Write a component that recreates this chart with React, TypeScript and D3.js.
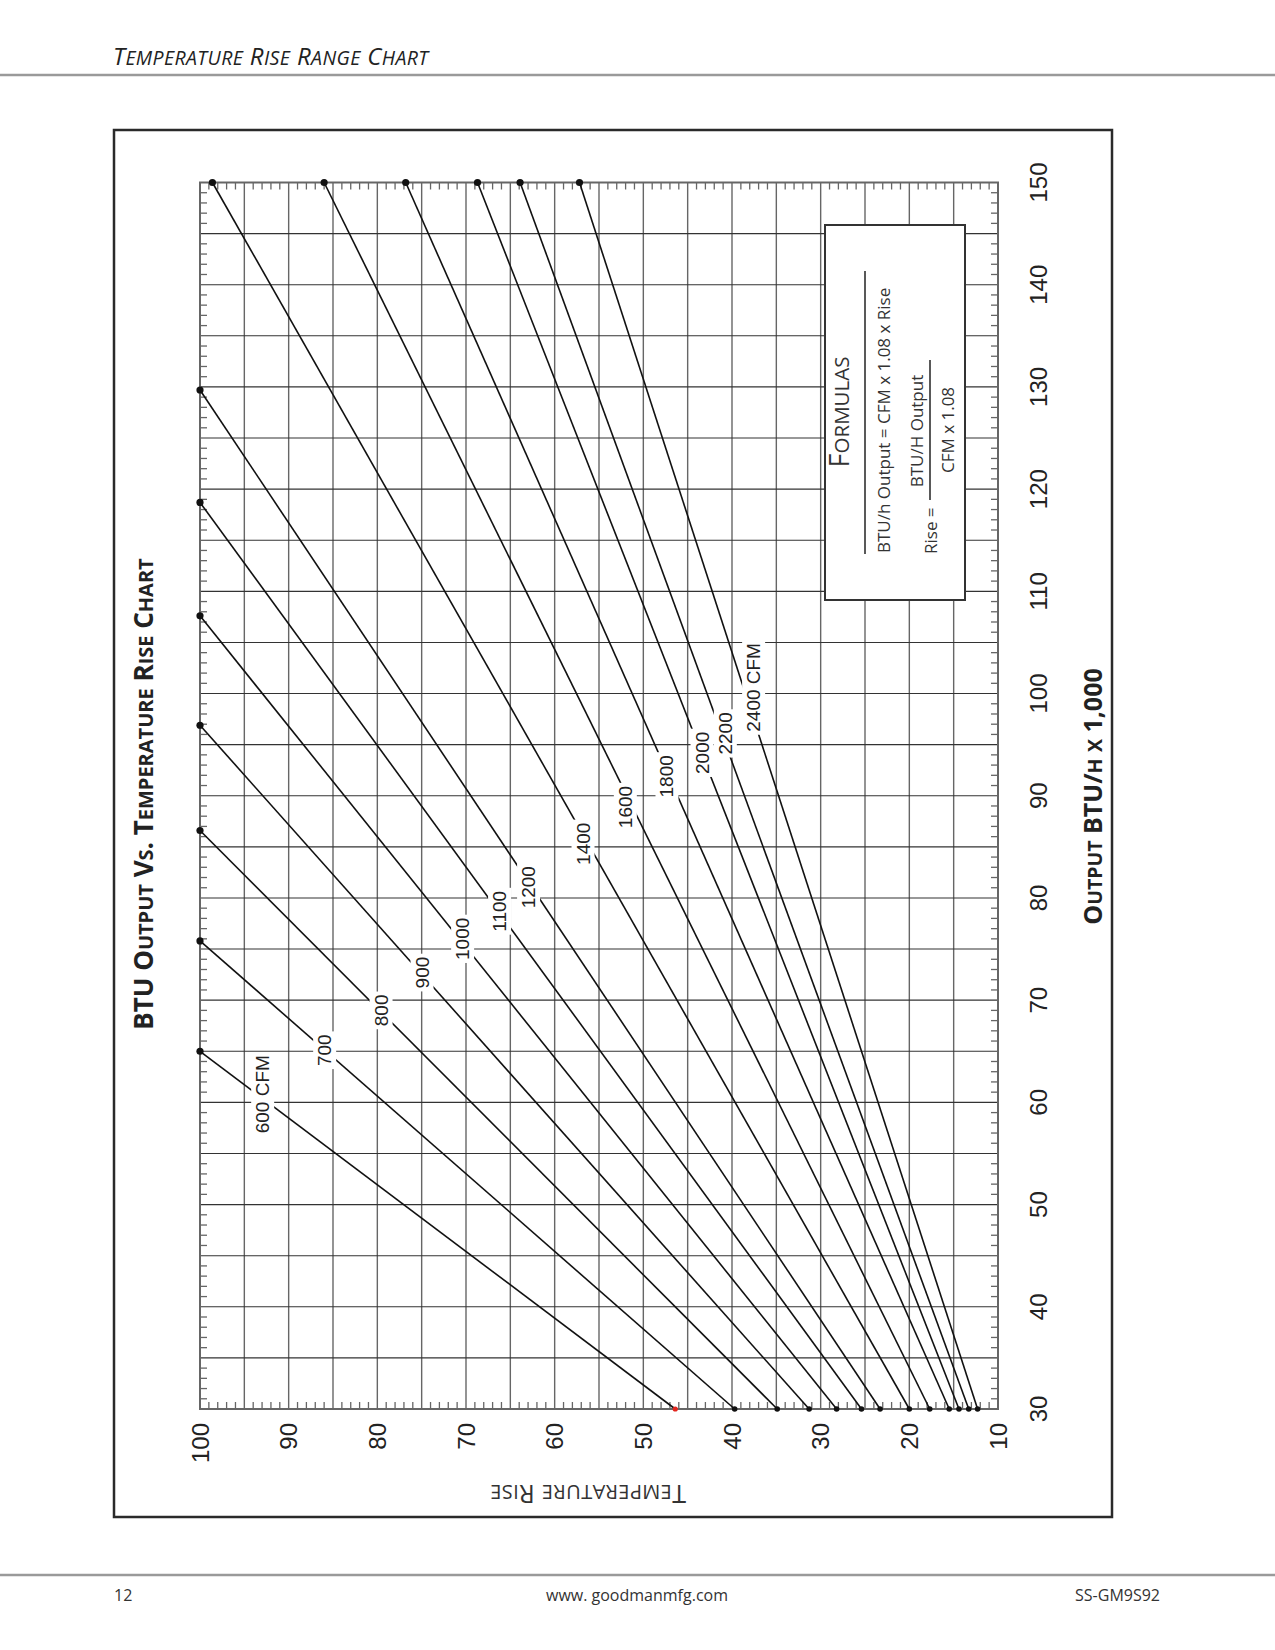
import React, { useEffect, useRef } from "react";
import * as d3 from "d3";

// one entry per airflow line
const cfmLabels = ["600 CFM", "700", "800", "900", "1000", "1100", "1200", "1400", "1600", "1800", "2000", "2200", "2400 CFM"];
// temperature rise where each line starts (output 30,000)
const riseAtStart = [46.4, 39.7, 34.9, 31.3, 28.2, 25.4, 23.3, 20.0, 17.7, 15.5, 14.4, 13.3, 12.3];
// where each line ends
const endOutput = [65.0, 75.8, 86.6, 96.9, 107.6, 118.7, 129.7, 150, 150, 150, 150, 150, 150];
const endRise = [100, 100, 100, 100, 100, 100, 100, 98.6, 86.0, 76.8, 68.7, 63.9, 57.2];
// label spot on each line (rise, output)
const labelRise = [92.97, 85.98, 79.62, 75.0, 70.42, 66.25, 62.98, 56.84, 52.07, 47.37, 43.42, 40.79, 37.6];
const labelOutput = [60.8, 65.1, 69.0, 72.7, 76.0, 78.7, 81.05, 85.3, 88.9, 91.9, 94.2, 96.1, 100.6];

const riseTicks = [100, 90, 80, 70, 60, 50, 40, 30, 20, 10];
const outputTicks = [30, 40, 50, 60, 70, 80, 90, 100, 110, 120, 130, 140, 150];

const W = 1275,
  H = 1650;
const SANS = "'Open Sans', 'Noto Sans', sans-serif";
const ARIAL = "'Liberation Sans', Arial, sans-serif";

// fake small caps: lowercase letters drawn as smaller capitals
function smallCaps(sel: any, str: string, big: number, small: number) {
  const runs: any[] = [];
  for (const ch of str) {
    const size = ch !== ch.toUpperCase() ? small : big;
    const last = runs[runs.length - 1];
    if (last && last.size === size) last.text += ch.toUpperCase();
    else runs.push({ size: size, text: ch.toUpperCase() });
  }
  sel
    .selectAll("tspan")
    .data(runs)
    .join("tspan")
    .attr("font-size", (d: any) => d.size)
    .text((d: any) => d.text);
  return sel;
}

function rotText(g: any, x: number, y: number, angle: number) {
  return g.append("text").attr("transform", "translate(" + x + "," + y + ") rotate(" + angle + ")");
}

export default function App() {
  const ref = useRef<SVGSVGElement>(null);

  useEffect(() => {
    const svg = d3.select(ref.current);
    svg.selectAll("*").remove();

    var x = d3.scaleLinear().domain([100, 10]).range([200, 998]);
    var y = d3.scaleLinear().domain([30, 150]).range([1409, 182.5]);

    // page header
    smallCaps(
      svg
        .append("text")
        .attr("x", 113)
        .attr("y", 65)
        .attr("font-family", SANS)
        .attr("font-style", "italic")
        .attr("letter-spacing", 0.4)
        .attr("fill", "#222"),
      "Temperature Rise Range Chart",
      24,
      19.5
    );
    svg.append("line").attr("x1", 0).attr("x2", W).attr("y1", 75).attr("y2", 75).attr("stroke", "#9a9a9a").attr("stroke-width", 2.5);

    // outer frame
    svg
      .append("rect")
      .attr("x", 114)
      .attr("y", 130)
      .attr("width", 998)
      .attr("height", 1387)
      .attr("fill", "none")
      .attr("stroke", "#2a2a2a")
      .attr("stroke-width", 2.5);

    const plot = svg.append("g");

    // grid
    plot
      .selectAll(".vgrid")
      .data(d3.range(15, 100, 5))
      .enter()
      .append("line")
      .attr("x1", (d: any) => x(d))
      .attr("x2", (d: any) => x(d))
      .attr("y1", y(150))
      .attr("y2", y(30))
      .attr("stroke", "#666")
      .attr("stroke-width", 1.4);
    plot
      .selectAll(".hgrid")
      .data(d3.range(35, 150, 5))
      .enter()
      .append("line")
      .attr("x1", x(100))
      .attr("x2", x(10))
      .attr("y1", (d: any) => y(d))
      .attr("y2", (d: any) => y(d))
      .attr("stroke", "#333")
      .attr("stroke-width", 1.1);

    // minor ticks on every side
    const riseMinor = d3.range(11, 100).filter((d) => d % 5 !== 0);
    const outMinor = d3.range(31, 150).filter((d) => d % 5 !== 0);
    const tickLen = 7;
    riseMinor.forEach((d) => {
      plot.append("line").attr("x1", x(d)).attr("x2", x(d)).attr("y1", y(150)).attr("y2", y(150) + tickLen).attr("stroke", "#666").attr("stroke-width", 1.3);
      plot.append("line").attr("x1", x(d)).attr("x2", x(d)).attr("y1", y(30)).attr("y2", y(30) - tickLen).attr("stroke", "#666").attr("stroke-width", 1.3);
    });
    outMinor.forEach((d) => {
      plot.append("line").attr("x1", x(100)).attr("x2", x(100) + tickLen).attr("y1", y(d)).attr("y2", y(d)).attr("stroke", "#666").attr("stroke-width", 1.3);
      plot.append("line").attr("x1", x(10)).attr("x2", x(10) - tickLen).attr("y1", y(d)).attr("y2", y(d)).attr("stroke", "#666").attr("stroke-width", 1.3);
    });

    plot
      .append("rect")
      .attr("x", x(100))
      .attr("y", y(150))
      .attr("width", x(10) - x(100))
      .attr("height", y(30) - y(150))
      .attr("fill", "none")
      .attr("stroke", "#666")
      .attr("stroke-width", 2);

    // airflow lines
    const line = d3
      .line<number[]>()
      .x((d) => x(d[0]))
      .y((d) => y(d[1]));
    cfmLabels.forEach((name, i) => {
      plot
        .append("path")
        .attr("d", line([[riseAtStart[i], 30], [endRise[i], endOutput[i]]]))
        .attr("fill", "none")
        .attr("stroke", "#111")
        .attr("stroke-width", 1.6);
    });

    // line labels with white knock-out
    cfmLabels.forEach((name, i) => {
      const g = plot.append("g").attr("transform", "translate(" + x(labelRise[i]) + "," + y(labelOutput[i]) + ") rotate(-90)");
      const t = g
        .append("text")
        .attr("text-anchor", "middle")
        .attr("dy", "0.36em")
        .attr("font-family", ARIAL)
        .attr("font-size", 19)
        .attr("fill", "#222")
        .text(name);
      const b = (t.node() as any).getBBox();
      g.insert("rect", "text")
        .attr("x", b.x - 3)
        .attr("y", b.y - 1)
        .attr("width", b.width + 6)
        .attr("height", b.height + 2)
        .attr("fill", "#fff");
    });

    // end points
    cfmLabels.forEach((name, i) => {
      plot.append("circle").attr("cx", x(endRise[i])).attr("cy", y(endOutput[i])).attr("r", 3.6).attr("fill", "#111");
      plot
        .append("circle")
        .attr("cx", x(riseAtStart[i]))
        .attr("cy", y(30))
        .attr("r", i === 0 ? 2.6 : 2.8)
        .attr("fill", i === 0 ? "#e3261f" : "#111");
    });

    // tick labels
    riseTicks.forEach((d) => {
      rotText(svg, x(d) + 8.5, 1423, -90)
        .attr("text-anchor", "end")
        .attr("font-family", ARIAL)
        .attr("font-size", 24)
        .attr("fill", "#222")
        .text(d);
    });
    outputTicks.forEach((d) => {
      rotText(svg, 1047, y(d), -90)
        .attr("text-anchor", "middle")
        .attr("font-family", ARIAL)
        .attr("font-size", 24)
        .attr("fill", "#222")
        .text(d);
    });

    // titles
    smallCaps(
      rotText(svg, 153, 794, -90).attr("text-anchor", "middle").attr("font-family", SANS).attr("font-weight", "bold").attr("fill", "#222"),
      "BTU Output Vs. Temperature Rise Chart",
      26,
      20
    );
    smallCaps(
      rotText(svg, 1102, 796.5, -90).attr("text-anchor", "middle").attr("font-family", SANS).attr("font-weight", "bold").attr("fill", "#222"),
      "Output BTU/h x 1,000",
      25,
      19.5
    );
    smallCaps(
      rotText(svg, 588, 1485, 180)
        .attr("text-anchor", "middle")
        .attr("font-family", SANS)
        .attr("letter-spacing", 0.4)
        .attr("fill", "#333"),
      "Temperature Rise",
      25,
      20
    );

    // formulas box
    svg.append("rect").attr("x", 825).attr("y", 225).attr("width", 140).attr("height", 375).attr("fill", "#fff").attr("stroke", "#333").attr("stroke-width", 2);
    smallCaps(rotText(svg, 849, 412, -90).attr("text-anchor", "middle").attr("font-family", SANS).attr("fill", "#333"), "Formulas", 27, 20.5);
    svg.append("line").attr("x1", 865).attr("x2", 865).attr("y1", 271).attr("y2", 554).attr("stroke", "#222").attr("stroke-width", 1.5);
    rotText(svg, 890, 553, -90).attr("text-anchor", "start").attr("font-family", SANS).attr("font-size", 17).attr("fill", "#333").text("BTU/h Output = CFM x 1.08 x Rise");
    rotText(svg, 937, 554, -90).attr("text-anchor", "start").attr("font-family", SANS).attr("font-size", 17).attr("fill", "#333").text("Rise =");
    svg.append("line").attr("x1", 930).attr("x2", 930).attr("y1", 360).attr("y2", 500).attr("stroke", "#222").attr("stroke-width", 1.5);
    rotText(svg, 923, 431, -90).attr("text-anchor", "middle").attr("font-family", SANS).attr("font-size", 17).attr("fill", "#333").text("BTU/H Output");
    rotText(svg, 954, 430, -90).attr("text-anchor", "middle").attr("font-family", SANS).attr("font-size", 17).attr("fill", "#333").text("CFM x 1.08");

    // page footer
    svg.append("line").attr("x1", 0).attr("x2", W).attr("y1", 1575).attr("y2", 1575).attr("stroke", "#9a9a9a").attr("stroke-width", 2.5);
    svg.append("text").attr("x", 114).attr("y", 1601).attr("font-family", SANS).attr("font-size", 16).attr("fill", "#333").text("12");
    svg.append("text").attr("x", 637).attr("y", 1601).attr("text-anchor", "middle").attr("font-family", SANS).attr("font-size", 16).attr("fill", "#333").text("www. goodmanmfg.com");
    svg.append("text").attr("x", 1160).attr("y", 1601).attr("text-anchor", "end").attr("font-family", SANS).attr("font-size", 16).attr("fill", "#333").text("SS-GM9S92");
  }, []);

  return (
    <svg
      ref={ref}
      width={W}
      height={H}
      viewBox={"0 0 " + W + " " + H}
      style={{ position: "absolute", left: 0, top: 0, background: "#fff" }}
    />
  );
}
